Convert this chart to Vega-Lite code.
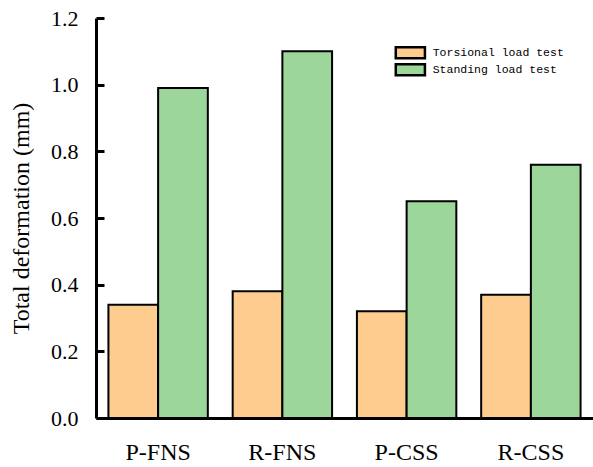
{
  "$schema": "https://vega.github.io/schema/vega-lite/v6.json",
  "width": 497,
  "height": 400,
  "autosize": {"type": "none"},
  "padding": {"left": 96, "top": 18, "right": 0, "bottom": 49},
  "background": "white",
  "config": {"view": {"stroke": null}},
  "data": {
    "values": [
      {"sample": "P-FNS", "test": "Torsional load test", "value": 0.34},
      {"sample": "P-FNS", "test": "Standing load test", "value": 0.99},
      {"sample": "R-FNS", "test": "Torsional load test", "value": 0.38},
      {"sample": "R-FNS", "test": "Standing load test", "value": 1.10},
      {"sample": "P-CSS", "test": "Torsional load test", "value": 0.32},
      {"sample": "P-CSS", "test": "Standing load test", "value": 0.65},
      {"sample": "R-CSS", "test": "Torsional load test", "value": 0.37},
      {"sample": "R-CSS", "test": "Standing load test", "value": 0.76}
    ]
  },
  "mark": {"type": "bar", "stroke": "black", "strokeWidth": 2, "clip": false},
  "encoding": {
    "x": {
      "field": "sample",
      "type": "nominal",
      "sort": ["P-FNS", "R-FNS", "P-CSS", "R-CSS"],
      "scale": {"paddingInner": 0.2, "paddingOuter": 0.1},
      "axis": {
        "title": null,
        "labelAngle": 0,
        "ticks": false,
        "labelPadding": 22,
        "labelFont": "Liberation Serif",
        "labelFontSize": 24,
        "labelColor": "black",
        "domainColor": "black",
        "domainWidth": 3
      }
    },
    "xOffset": {
      "field": "test",
      "type": "nominal",
      "sort": ["Torsional load test", "Standing load test"],
      "scale": {"paddingInner": 0, "paddingOuter": 0}
    },
    "y": {
      "field": "value",
      "type": "quantitative",
      "scale": {"domain": [0, 1.2], "nice": false},
      "axis": {
        "title": "Total deformation (mm)",
        "titleFont": "Liberation Serif",
        "titleFontSize": 24,
        "titleFontWeight": "normal",
        "titleColor": "black",
        "titlePadding": 17,
        "values": [0, 0.2, 0.4, 0.6, 0.8, 1.0, 1.2],
        "format": ".1f",
        "grid": false,
        "ticks": true,
        "tickSize": -8,
        "tickWidth": 3,
        "tickColor": "black",
        "labelPadding": 26,
        "labelFont": "Liberation Serif",
        "labelFontSize": 22,
        "labelColor": "black",
        "domainColor": "black",
        "domainWidth": 3
      }
    },
    "color": {
      "field": "test",
      "type": "nominal",
      "sort": ["Torsional load test", "Standing load test"],
      "scale": {"domain": ["Torsional load test", "Standing load test"], "range": ["#FFCC90", "#9DD69A"]},
      "legend": {
        "title": null,
        "orient": "none",
        "legendX": 308.6,
        "legendY": 29,
        "padding": 0,
        "symbolType": "M-5,-1.9H5V1.9H-5Z",
        "symbolSize": 34,
        "symbolStrokeColor": "black",
        "symbolStrokeWidth": 2.5,
        "symbolOpacity": 1,
        "labelFont": "Liberation Mono",
        "labelFontSize": 11.5,
        "labelColor": "black",
        "labelOffset": 16.6,
        "rowPadding": -7
      }
    }
  }
}
